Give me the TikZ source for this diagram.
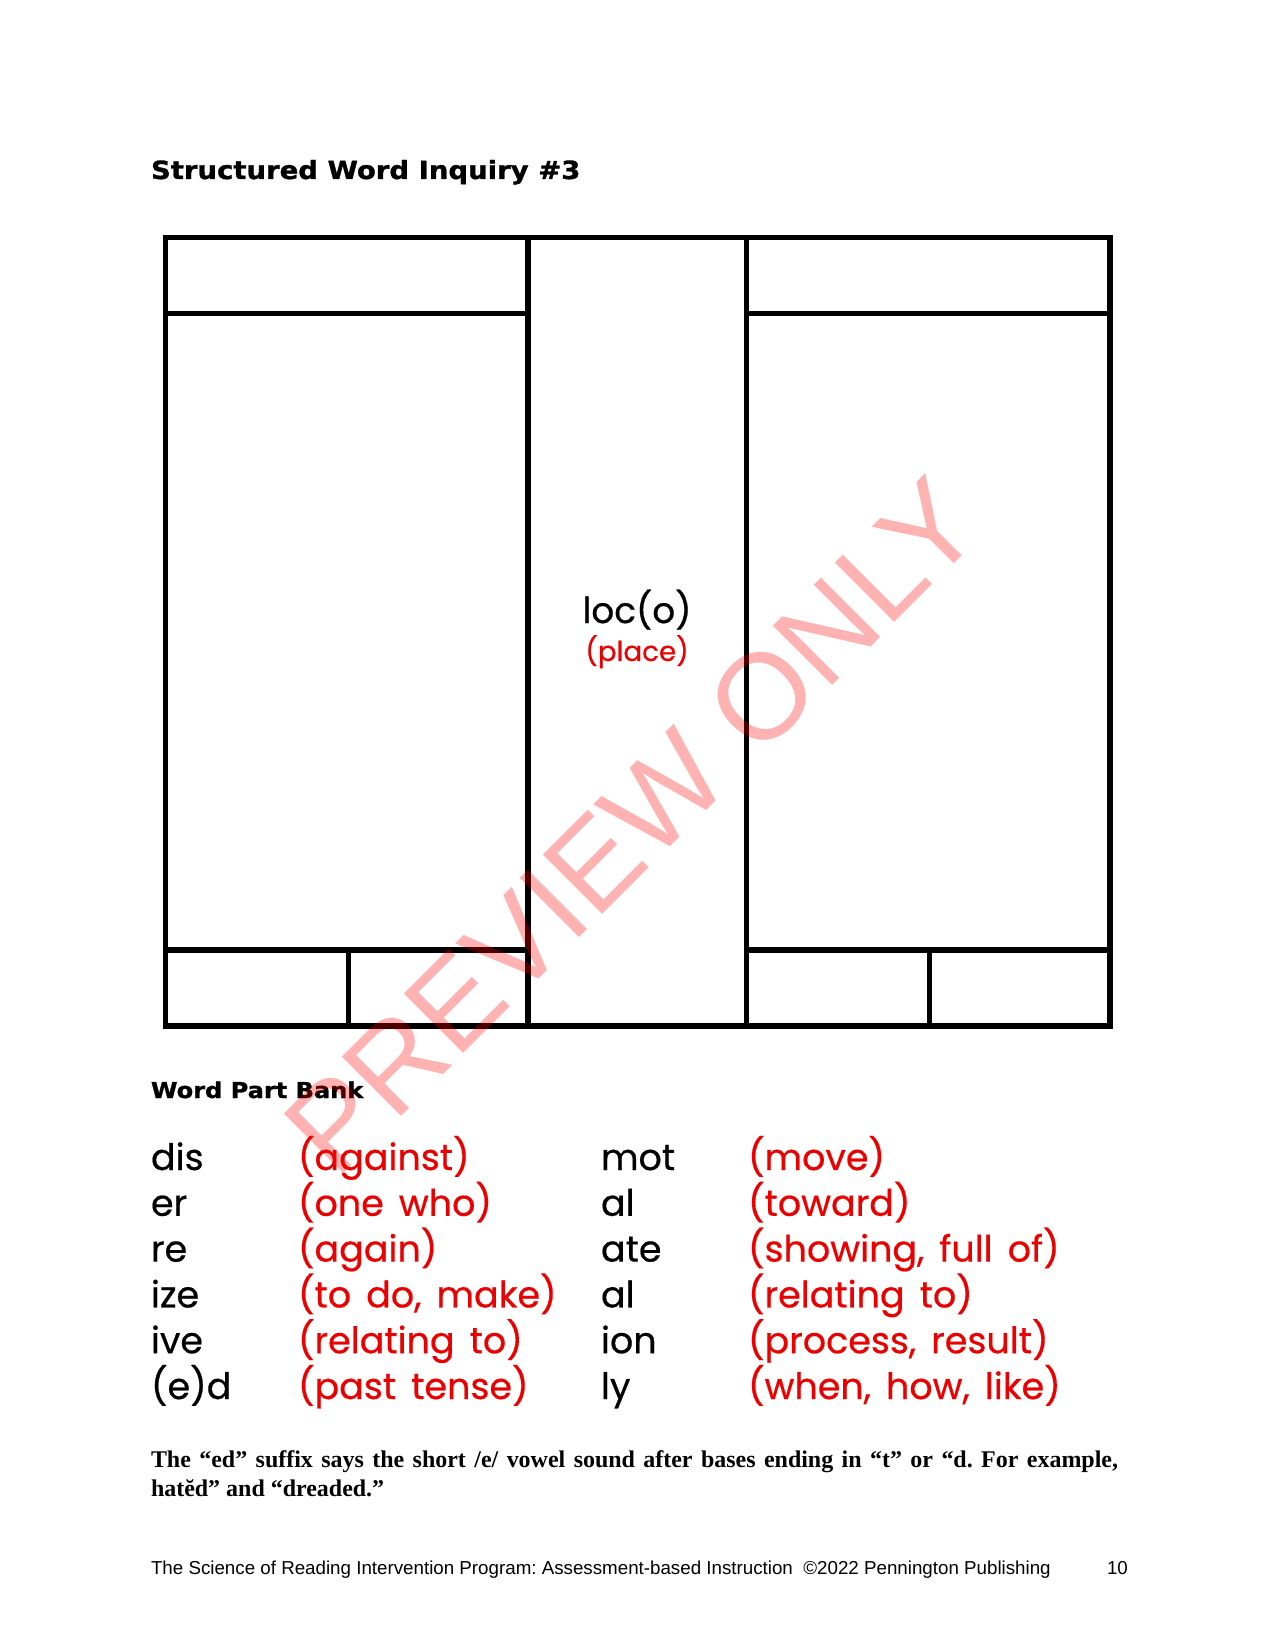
\documentclass[tikz,border=0pt]{standalone}
\usepackage{fontspec}
\setmainfont{Liberation Serif}
\newfontfamily\headfont{DejaVu Sans Bold}[FakeBold=1.2, FakeStretch=1.1]
\newfontfamily\bankfont{Poppins}[FakeBold=0.5, WordSpace=1.55]
\newfontfamily\arialfont{Liberation Sans}
\definecolor{wordred}{RGB}{235,0,0}
\tikzset{
  grid/.style={line width=2.6pt, line cap=rect, black},
  txt/.style={anchor=base west, inner sep=0pt, outer sep=0pt},
  head/.style={txt, font=\headfont\fontsize{12}{14}\selectfont},
  part/.style={txt, font=\bankfont\fontsize{17.5}{21}\selectfont, text=black},
  mean/.style={txt, font=\bankfont\fontsize{17.5}{21}\selectfont, text=wordred},
  note/.style={txt, font=\bfseries\fontsize{11.5}{14}\selectfont},
  foot/.style={txt, font=\arialfont\fontsize{9}{12}\selectfont},
}
\begin{document}
\frenchspacing
\begin{tikzpicture}[x=0.48pt,y=-0.48pt]
\useasboundingbox[fill=white] (0,0) rectangle (1275,1650);
% title
\node[head] (title) at (151,179) {Structured Word Inquiry \#3};
% grid
\draw[grid] (165.5,237.5) rectangle (1110,1026);
\draw[grid] (528,237.5) -- (528,1026);
\draw[grid] (746.5,237.5) -- (746.5,1026);
\draw[grid] (165.5,313.5) -- (528,313.5);
\draw[grid] (746.5,313.5) -- (1110,313.5);
\draw[grid] (165.5,950) -- (528,950);
\draw[grid] (746.5,950) -- (1110,950);
\draw[grid] (348.5,950) -- (348.5,1026);
\draw[grid] (929.5,950) -- (929.5,1026);
% centre base
\node[anchor=base, inner sep=0pt, font=\bankfont\fontsize{17.2}{20}\selectfont] (base) at (637,623) {loc(o)};
\node[anchor=base, inner sep=0pt, font=\bankfont\fontsize{13.3}{16}\selectfont, text=wordred] (basemean) at (637,661) {(place)};
% word part bank
\node[head, font=\headfont\fontsize{10.5}{14}\selectfont] (bank) at (151,1098) {Word Part Bank};
\node[part] (p1) at (151,1170) {dis};
\node[mean] (m1) at (298,1170) {(against)};
\node[part] (p2) at (151,1215.8) {er};
\node[mean] (m2) at (298,1215.8) {(one who)};
\node[part] (p3) at (151,1261.6) {re};
\node[mean] (m3) at (298,1261.6) {(again)};
\node[part] (p4) at (151,1307.4) {ize};
\node[mean] (m4) at (298,1307.4) {(to do, make)};
\node[part] (p5) at (151,1353.2) {ive};
\node[mean] (m5) at (298,1353.2) {(relating to)};
\node[part] (p6) at (151,1399) {(e)d};
\node[mean] (m6) at (298,1399) {(past tense)};
\node[part] (q1) at (601,1170) {mot};
\node[mean] (n1) at (748,1170) {(move)};
\node[part] (q2) at (601,1215.8) {al};
\node[mean] (n2) at (748,1215.8) {(toward)};
\node[part] (q3) at (601,1261.6) {ate};
\node[mean] (n3) at (748,1261.6) {(showing, full of)};
\node[part] (q4) at (601,1307.4) {al};
\node[mean] (n4) at (748,1307.4) {(relating to)};
\node[part] (q5) at (601,1353.2) {ion};
\node[mean] (n5) at (748,1353.2) {(process, result)};
\node[part] (q6) at (601,1399) {ly};
\node[mean] (n6) at (748,1399) {(when, how, like)};
% note
\node[note] (note1) at (151,1467) {\makebox[464.2pt][s]{The “ed” suffix says the short /e/ vowel sound after bases ending in “t” or “d. For example,}};
\node[note] (note2) at (151,1496) {hatĕd” and “dreaded.”};
% footer
\node[foot] (foot) at (151,1574) {The Science of Reading Intervention Program: Assessment-based Instruction\ \ ©2022 Pennington Publishing};
\node[foot] (page) at (1107,1574) {10};
% watermark
\node[rotate=45, inner sep=0pt, text=red, text opacity=0.3, font=\arialfont\fontsize{58.5}{60}\selectfont] (wm) at (632,826) {PREVIEW ONLY};
\end{tikzpicture}
\end{document}
